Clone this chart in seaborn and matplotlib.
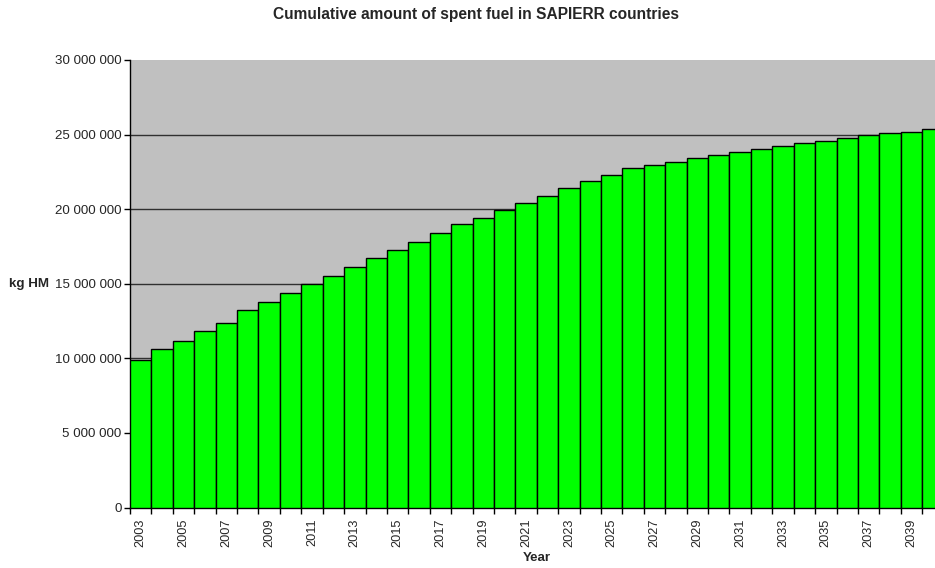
import numpy as np
import pandas as pd
import seaborn as sns
import matplotlib
matplotlib.use('Agg')
import matplotlib.pyplot as plt
from matplotlib.ticker import FuncFormatter

years = list(range(2003, 2041))
spent_fuel = [9.86, 10.62, 11.17, 11.84, 12.40, 13.21, 13.78, 14.37, 14.95, 15.53,
              16.13, 16.71, 17.29, 17.82, 18.43, 18.99, 19.44, 19.93, 20.42, 20.88,
              21.45, 21.87, 22.29, 22.79, 22.99, 23.19, 23.41, 23.63, 23.83, 24.01,
              24.21, 24.41, 24.59, 24.80, 25.00, 25.13, 25.20, 25.40]
spent_fuel = [v * 1e6 for v in spent_fuel]
y_ticks = [0, 5e6, 10e6, 15e6, 20e6, 25e6, 30e6]

df = pd.DataFrame({'Year': [str(y) for y in years], 'kg': spent_fuel})

sns.set_style('white')
plt.rcParams['font.family'] = ['Liberation Sans', 'DejaVu Sans']

fig = plt.figure(figsize=(9.35, 5.68), dpi=100)
# plot area runs past the right edge, as in the reference (last bar clipped)
ax = fig.add_axes([130 / 935, 60.5 / 568, 813.6 / 935, 447.5 / 568])
ax.set_facecolor('#C0C0C0')

sns.barplot(data=df, x='Year', y='kg', color='#00FF00', width=1.0,
            edgecolor='black', linewidth=1.0, saturation=1, ax=ax, zorder=3)

ax.set_ylim(0, 30e6)
ax.set_xlim(-0.5, len(years) - 0.5)
ax.set_yticks(y_ticks)
ax.yaxis.set_major_formatter(FuncFormatter(lambda v, p: f'{int(v):,}'.replace(',', ' ')))
ax.grid(axis='y', color='#303030', linewidth=1.0, zorder=1)
ax.set_axisbelow(True)
# no line along the top of the plot area
ax.yaxis.get_major_ticks()[-1].gridline.set_visible(False)

# labels on every other year, tick marks between categories
pos = np.arange(len(years))
ax.set_xticks(pos[::2])
ax.set_xticklabels([str(y) for y in years[::2]], rotation=90, fontsize=9.2)
ax.set_xticks(np.arange(len(years) + 1) - 0.5, minor=True)
ax.tick_params(axis='x', which='major', length=0, pad=8)
ax.tick_params(axis='x', which='minor', length=4, width=1, color='black', direction='out')
ax.tick_params(axis='y', length=4, width=1, color='black', direction='out', labelsize=9.6, pad=2)
ax.tick_params(axis='y', left=True)
ax.tick_params(axis='x', bottom=True, which='both')

for s in ['top', 'right']:
    ax.spines[s].set_visible(False)
for s in ['left', 'bottom']:
    ax.spines[s].set_color('black')
    ax.spines[s].set_linewidth(1.0)

ax.set_xlabel('')
ax.set_ylabel('')
fig.text(29.5 / 935, 1 - 284 / 568, 'kg HM', fontsize=9.6, fontweight='bold', ha='center', va='center')
fig.text(537 / 935, 1 - 558 / 568, 'Year', fontsize=9.6, fontweight='bold', ha='center', va='center')
fig.text(476 / 935, 1 - 15 / 568, 'Cumulative amount of spent fuel in SAPIERR countries',
         fontsize=11.2, fontweight='bold', ha='center', va='center')

fig.savefig('out.png', dpi=100)
